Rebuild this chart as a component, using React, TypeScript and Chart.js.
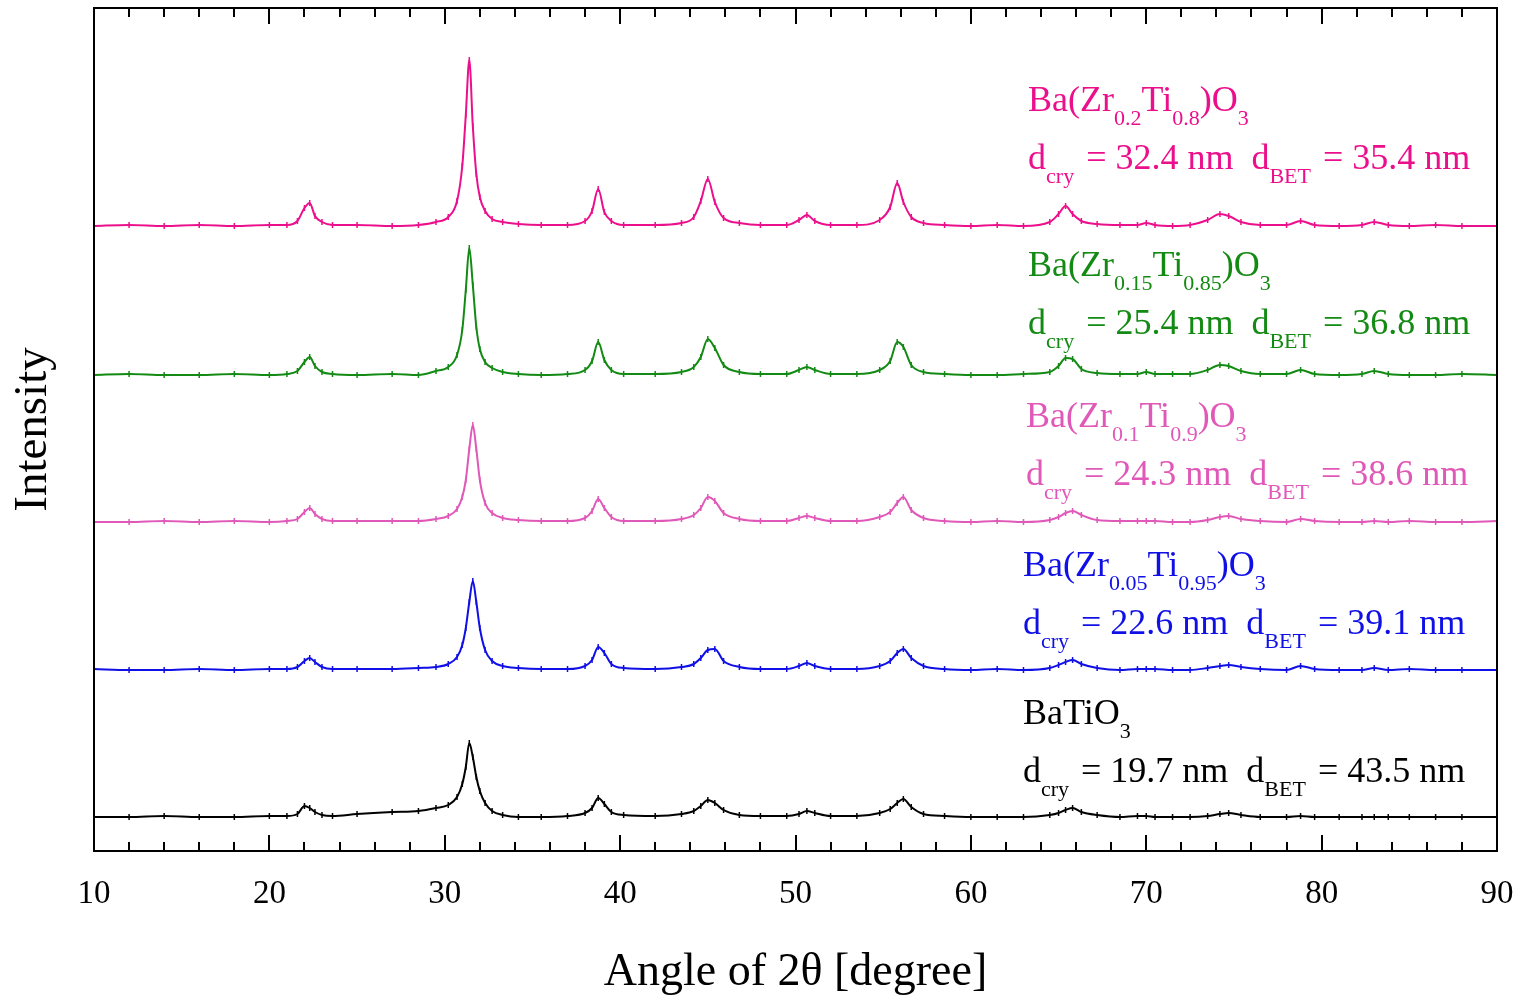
import React, { useEffect, useRef } from "react";
import { Chart, registerables } from "chart.js";

Chart.register(...registerables);

// Shared 2θ grid (degrees)
const angles = [
  10, 12, 14, 16, 18, 20,
  21, 21.6, 22.0, 22.3, 22.6, 23.0, 23.6,
  25, 27, 28.5,
  29.5, 30.2, 30.7, 31.0, 31.2, 31.4, 31.6, 31.8, 32.0, 32.3, 32.7, 33.3, 34.2,
  35.5, 37,
  38.0, 38.4, 38.75, 39.1, 39.5, 40.2,
  42, 43.5,
  44.2, 44.6, 45.0, 45.4, 45.9, 46.8,
  48,
  49.5, 50.2, 50.65, 51.1,
  52, 53.5,
  54.8, 55.4, 55.8, 56.15, 56.6, 57.3,
  58.5, 60, 61.5, 63,
  64.5, 65.0, 65.4, 65.8, 66.3, 67.2,
  68.5,
  69.5, 70, 70.5, 71.5,
  72.5, 73.5, 74.2, 74.7, 75.4, 76.5,
  78, 78.8, 79.6,
  81,
  82.3, 83.0, 83.8,
  85, 86.5, 88, 90,
];

// Intensities (relative, above each pattern's own baseline)
const zr20 = [
  0, 1, 0, 1, 0, 1,
  1, 5, 18, 23, 10, 4, 1,
  1, 0, 1,
  4, 9, 25, 60, 111, 166, 100, 52, 29, 15, 7, 4, 2,
  1, 1,
  5, 15, 37, 14, 5, 1,
  1, 3,
  9, 25, 47, 24, 8, 3,
  1,
  1, 6, 11, 5,
  1, 1,
  6, 19, 43, 24, 9, 3,
  1, 0, 1, 0,
  4, 12, 20, 12, 5, 2,
  1,
  1, 3, 1, 0,
  1, 6, 12, 10, 4, 1,
  1, 5, 1,
  0,
  1, 4, 1,
  0, 1, 0, 0,
];

const zr15 = [
  0, 1, 0, 0, 1, 0,
  1, 4, 13, 18, 9, 3, 1,
  0, 1, 0,
  4, 8, 20, 45, 85, 127, 90, 48, 26, 13, 7, 3, 1,
  0, 1,
  5, 14, 33, 15, 5, 1,
  1, 3,
  8, 18, 36, 27, 10, 3,
  1,
  1, 5, 8, 5,
  1, 1,
  5, 14, 33, 28, 10, 3,
  1, 0, 0, 1,
  3, 9, 17, 16, 6, 2,
  1,
  1, 3, 1, 1,
  1, 5, 10, 9, 4, 1,
  1, 5, 1,
  0,
  1, 4, 1,
  0, 0, 1, 0,
];

const zr10 = [
  0, 0, 1, 0, 1, 0,
  1, 3, 10, 14, 8, 3, 1,
  1, 1, 1,
  3, 6, 13, 25, 42, 73, 97, 73, 42, 19, 9, 4, 2,
  1, 1,
  4, 11, 23, 14, 5, 1,
  1, 3,
  7, 14, 25, 21, 9, 3,
  1,
  1, 4, 6, 4,
  1, 1,
  5, 10, 19, 25, 12, 4,
  1, 0, 1, 0,
  2, 5, 9, 11, 7, 2,
  1,
  1, 1, 1, 0,
  0, 2, 5, 6, 3, 1,
  0, 3, 1,
  0,
  0, 1, 0,
  1, 0, 0, 1,
];

const zr05 = [
  1, 0, 0, 1, 0, 1,
  1, 3, 9, 12, 8, 3, 1,
  1, 1, 2,
  3, 6, 13, 25, 42, 68, 89, 68, 42, 20, 9, 4, 2,
  1, 1,
  4, 10, 23, 17, 6, 2,
  1, 3,
  6, 12, 20, 21, 9, 3,
  1,
  1, 4, 7, 4,
  1, 1,
  4, 9, 17, 21, 12, 4,
  1, 0, 1, 0,
  2, 5, 8, 10, 6, 2,
  0,
  1, 1, 1, 0,
  0, 2, 4, 5, 3, 1,
  0, 4, 1,
  0,
  0, 2, 0,
  1, 0, 0, 0,
];

const zr00 = [
  0, 0, 1, 0, 0, 1,
  1, 3, 11, 9, 5, 2, 1,
  3, 5, 6,
  9, 12, 20, 33, 50, 74, 60, 40, 26, 14, 6, 2, 0,
  0, 1,
  4, 9, 19, 13, 5, 2,
  1, 3,
  6, 11, 17, 14, 7, 2,
  1,
  1, 3, 6, 4,
  1, 1,
  4, 8, 14, 18, 10, 3,
  1, 0, 0, 0,
  2, 4, 7, 9, 5, 2,
  0,
  1, 1, 0, 0,
  0, 1, 3, 4, 2, 0,
  0, 1, 0,
  0,
  0, 0, 0,
  0, 0, 0, 0,
];

const seriesNames = [
  "Ba(Zr0.2Ti0.8)O3",
  "Ba(Zr0.15Ti0.85)O3",
  "Ba(Zr0.1Ti0.9)O3",
  "Ba(Zr0.05Ti0.95)O3",
  "BaTiO3",
];
const seriesValues = [zr20, zr15, zr10, zr05, zr00];
const stackOffsets = [625, 476, 329, 181, 34];
const seriesColors = ["#EC0F8C", "#138A13", "#E058B8", "#0F0FE6", "#000000"];

// Label contents
const formulaParts: [string, number][][] = [
  [["Ba(Zr", 0], ["0.2", 1], ["Ti", 0], ["0.8", 1], [")O", 0], ["3", 1]],
  [["Ba(Zr", 0], ["0.15", 1], ["Ti", 0], ["0.85", 1], [")O", 0], ["3", 1]],
  [["Ba(Zr", 0], ["0.1", 1], ["Ti", 0], ["0.9", 1], [")O", 0], ["3", 1]],
  [["Ba(Zr", 0], ["0.05", 1], ["Ti", 0], ["0.95", 1], [")O", 0], ["3", 1]],
  [["BaTiO", 0], ["3", 1]],
];
const dCry = ["32.4", "25.4", "24.3", "22.6", "19.7"];
const dBet = ["35.4", "36.8", "38.6", "39.1", "43.5"];
const labelX = [63.26, 63.26, 63.14, 62.97, 62.97];
const labelY1 = [740, 575, 424, 275, 127];
const labelY2 = [682, 517, 366, 217, 69];

const xMajorTicks = [10, 20, 30, 40, 50, 60, 70, 80, 90];
const xMinorTicks = [12, 14, 16, 18, 22, 24, 26, 28, 32, 34, 36, 38, 42, 44, 46, 48, 52, 54, 56, 58, 62, 64, 66, 68, 72, 74, 76, 78, 82, 84, 86, 88];

const SERIF = '"Liberation Serif", "Times New Roman", serif';

// parts: [text, isSubscript, extra gap after]
function drawRich(ctx: CanvasRenderingContext2D, x: number, y: number, parts: [string, number, number?][], color: string) {
  let cx = x;
  ctx.fillStyle = color;
  ctx.textBaseline = "alphabetic";
  ctx.textAlign = "left";
  for (const [txt, sub, gap] of parts) {
    ctx.font = sub ? `22px ${SERIF}` : `36px ${SERIF}`;
    ctx.fillText(txt, cx, sub ? y + 14 : y);
    cx += ctx.measureText(txt).width + (gap || 0);
  }
}

const decorPlugin = {
  id: "decor",
  afterDraw(chart: any) {
    const { ctx, chartArea, scales } = chart;
    const { left, right, top, bottom } = chartArea;
    const xs = scales.x;
    const ys = scales.y;
    ctx.save();
    ctx.strokeStyle = "#000";
    ctx.lineWidth = 2;
    ctx.strokeRect(left, top, right - left, bottom - top);
    ctx.beginPath();
    for (const t of xMajorTicks) {
      const px = Math.round(xs.getPixelForValue(t));
      ctx.moveTo(px, bottom);
      ctx.lineTo(px, bottom - 16);
      ctx.moveTo(px, top);
      ctx.lineTo(px, top + 16);
    }
    for (const t of xMinorTicks) {
      const px = Math.round(xs.getPixelForValue(t));
      ctx.moveTo(px, bottom);
      ctx.lineTo(px, bottom - 9);
      ctx.moveTo(px, top);
      ctx.lineTo(px, top + 9);
    }
    ctx.stroke();

    for (let i = 0; i < seriesNames.length; i++) {
      const x = xs.getPixelForValue(labelX[i]);
      const y1 = ys.getPixelForValue(labelY1[i]);
      const y2 = ys.getPixelForValue(labelY2[i]);
      drawRich(ctx, x, y1, formulaParts[i], seriesColors[i]);
      drawRich(
        ctx,
        x,
        y2,
        [
          ["d", 0],
          ["cry", 1, 3],
          [` = ${dCry[i]} nm  d`, 0],
          ["BET", 1, 3],
          [` = ${dBet[i]} nm`, 0],
        ],
        seriesColors[i]
      );
    }
    ctx.restore();
  },
};

export default function App() {
  const ref = useRef<HTMLCanvasElement | null>(null);

  useEffect(() => {
    if (!ref.current) return;
    const datasets = seriesValues.map((vals, i) => ({
      label: seriesNames[i],
      data: angles.map((a, j) => ({ x: a, y: vals[j] + stackOffsets[i] })),
      borderColor: seriesColors[i],
      backgroundColor: seriesColors[i],
      borderWidth: 2,
      cubicInterpolationMode: "monotone" as const,
      pointStyle: "line" as const,
      rotation: 90,
      pointRadius: 3,
      pointBorderWidth: 1.5,
      pointBorderColor: seriesColors[i],
      fill: false,
    }));
    const chart = new Chart(ref.current, {
      type: "line",
      data: { datasets },
      options: {
        responsive: false,
        animation: false,
        maintainAspectRatio: false,
        layout: { padding: { top: 8, right: 22, left: 0, bottom: 0 } },
        plugins: {
          legend: { display: false },
          tooltip: { enabled: false },
        },
        scales: {
          x: {
            type: "linear",
            min: 10,
            max: 90,
            ticks: {
              stepSize: 10,
              color: "#000",
              padding: 24,
              font: { family: SERIF, size: 33 },
            },
            grid: { display: false, drawTicks: false },
            border: { display: false },
            title: {
              display: true,
              text: "Angle of 2θ [degree]",
              color: "#000",
              font: { family: SERIF, size: 46 },
              padding: { top: 0, bottom: -5 },
            },
            afterFit: (s: any) => {
              s.height = 145;
              s.paddingLeft = 0;
              s.paddingRight = 0;
            },
          },
          y: {
            type: "linear",
            min: 0,
            max: 843,
            ticks: { display: false },
            grid: { display: false, drawTicks: false },
            border: { display: false },
            title: {
              display: true,
              text: "Intensity",
              color: "#000",
              font: { family: SERIF, size: 47 },
              padding: { top: 5, bottom: 0 },
            },
            afterFit: (s: any) => {
              s.width = 94;
              s.paddingTop = 0;
              s.paddingBottom = 0;
            },
          },
        },
      },
      plugins: [decorPlugin],
    });
    return () => chart.destroy();
  }, []);

  return (
    <div style={{ position: "fixed", left: 0, top: 0, width: 1519, height: 996, background: "#fff" }}>
      <canvas ref={ref} width={1519} height={996} style={{ width: 1519, height: 996 }} />
    </div>
  );
}
